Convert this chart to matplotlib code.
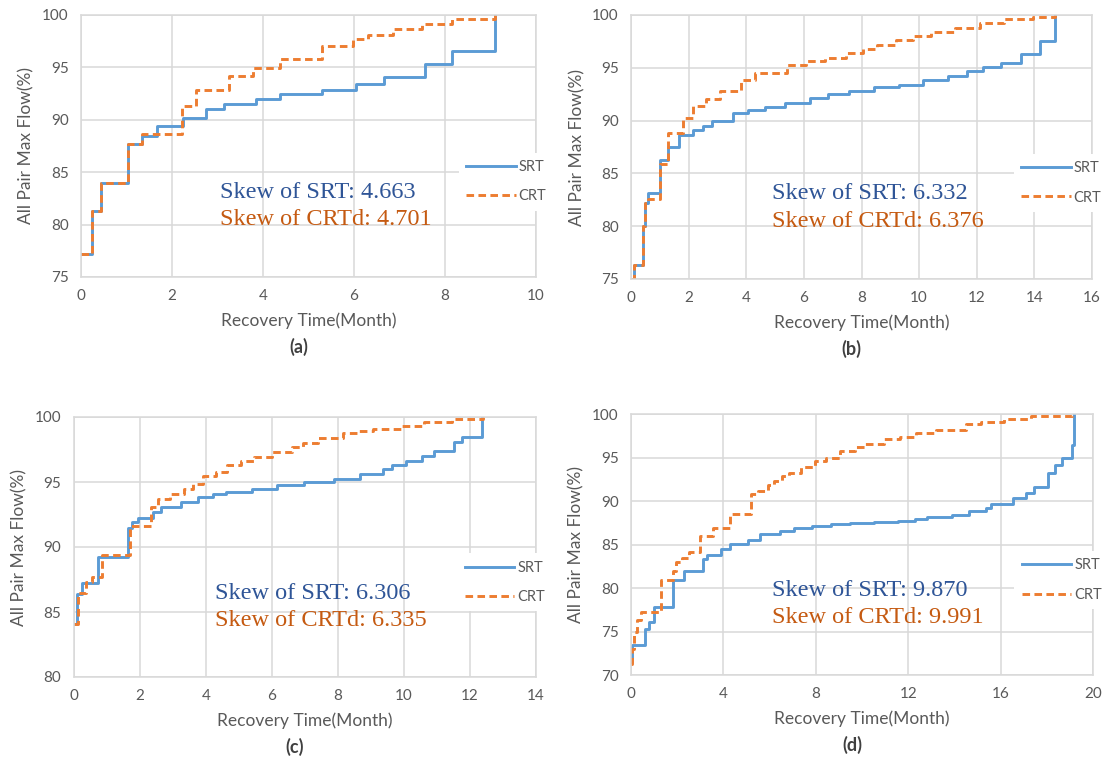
import matplotlib.pyplot as plt

# ---- data (step start time, level) ----
# (a)
a_srt_t = [0, 0.25, 0.45, 1.03, 1.35, 1.67, 2.25, 2.75, 3.15, 3.85, 4.37, 5.3, 6.05, 6.65, 7.55, 8.15, 9.1]
a_srt_v = [77.2, 81.3, 84.0, 87.7, 88.5, 89.4, 90.2, 91.0, 91.5, 92.0, 92.45, 92.85, 93.4, 94.1, 95.3, 96.6, 100]
a_crt_t = [0, 0.25, 0.45, 1.03, 1.35, 2.22, 2.53, 3.25, 3.78, 4.37, 5.3, 5.97, 6.3, 6.85, 7.5, 8.15, 9.1]
a_crt_v = [77.2, 81.3, 84.0, 87.7, 88.6, 91.3, 92.8, 94.2, 94.9, 95.8, 97.0, 97.7, 98.1, 98.7, 99.1, 99.6, 100]

# (b)
b_srt_t = [0, 0.1, 0.4, 0.5, 0.6, 1.0, 1.28, 1.65, 2.15, 2.5, 2.8, 3.55, 4.05, 4.65, 5.33, 6.2, 6.85,
           7.55, 8.45, 9.3, 10.15, 11.0, 11.65, 12.2, 12.85, 13.55, 14.2, 14.7]
b_srt_v = [75, 76.3, 80, 82.2, 83.1, 86.3, 87.5, 88.6, 89.1, 89.5, 90.0, 90.7, 91.0, 91.3, 91.7, 92.15, 92.55,
           92.8, 93.15, 93.35, 93.8, 94.25, 94.7, 95.1, 95.5, 96.35, 97.5, 100]
b_crt_t = [0, 0.1, 0.4, 0.5, 0.58, 1.0, 1.3, 1.8, 2.15, 2.6, 3.1, 3.82, 4.3, 5.4, 6.08, 6.75, 7.45,
           8.05, 8.55, 9.2, 9.8, 10.4, 11.25, 12.1, 12.95, 13.95, 14.72]
b_crt_v = [75, 76.3, 80, 82.2, 82.6, 85.85, 88.8, 90.2, 91.4, 92.0, 92.8, 93.8, 94.5, 95.3, 95.6, 95.95, 96.4,
           96.75, 97.2, 97.6, 98.0, 98.35, 98.8, 99.2, 99.6, 99.85, 100]

# (c)
c_srt_t = [0, 0.1, 0.25, 0.72, 1.63, 1.75, 1.95, 2.38, 2.65, 3.25, 3.75, 4.22, 4.62, 5.38, 6.15, 6.97,
           7.87, 8.68, 9.37, 9.65, 10.07, 10.55, 10.9, 11.5, 11.75, 12.35]
c_srt_v = [84.1, 86.4, 87.2, 89.2, 91.5, 91.9, 92.25, 92.7, 93.05, 93.5, 93.85, 94.1, 94.25, 94.5, 94.8, 95.0,
           95.25, 95.6, 96.0, 96.3, 96.6, 97.0, 97.4, 98.1, 98.5, 100]
c_crt_t = [0, 0.12, 0.35, 0.55, 0.85, 1.7, 2.33, 2.55, 2.92, 3.32, 3.6, 3.9, 4.3, 4.65, 5.05, 5.45, 6.0,
           6.6, 6.95, 7.4, 8.15, 8.62, 9.07, 9.95, 10.62, 11.45, 12.38]
c_crt_v = [84.1, 86.5, 87.3, 87.7, 89.35, 91.6, 93.1, 93.7, 94.1, 94.5, 94.85, 95.5, 95.8, 96.3, 96.6, 96.9, 97.3,
           97.7, 98.0, 98.4, 98.75, 98.9, 99.1, 99.3, 99.65, 99.85, 100]

# (d)
d_srt_t = [0, 0.05, 0.6, 0.8, 1.0, 1.8, 2.3, 3.1, 3.3, 3.9, 4.3, 5.05, 5.6, 6.45, 7.05, 7.85, 8.65, 9.5,
           10.5, 11.55, 12.3, 12.8, 13.9, 14.65, 15.35, 15.6, 16.55, 17.1, 17.45, 18.05, 18.35, 18.65, 19.08, 19.18]
d_srt_v = [71.5, 73.4, 75.3, 76.1, 77.8, 80.9, 81.9, 83.3, 83.8, 84.5, 85.05, 85.5, 86.15, 86.6, 86.9, 87.1, 87.3, 87.45,
           87.6, 87.75, 87.95, 88.15, 88.4, 88.8, 89.2, 89.6, 90.4, 90.9, 91.6, 93.2, 94.1, 94.95, 96.4, 100]
d_crt_t = [0, 0.05, 0.12, 0.25, 0.45, 1.3, 1.8, 1.95, 2.2, 2.5, 3.0, 3.55, 4.3, 5.2, 5.5, 5.95, 6.2, 6.55,
           6.85, 7.35, 7.95, 8.45, 9.05, 9.7, 10.15, 10.95, 11.65, 12.35, 13.2, 14.5, 15.15, 16.15, 17.3, 19.1]
d_crt_v = [71.3, 73.0, 75.0, 76.3, 77.2, 80.9, 82.0, 83.0, 83.4, 84.1, 86.0, 86.95, 88.5, 90.8, 91.1, 91.8, 92.3, 92.9,
           93.2, 93.95, 94.6, 95.0, 95.75, 96.25, 96.55, 97.1, 97.4, 97.8, 98.15, 98.85, 99.1, 99.45, 99.8, 100]

skew_srt = ["4.663", "6.332", "6.306", "9.870"]
skew_crt = ["4.701", "6.376", "6.335", "9.991"]
letters = ["(a)", "(b)", "(c)", "(d)"]
xlims = [(0, 10, 2), (0, 16, 2), (0, 14, 2), (0, 20, 4)]
ylims = [(75, 100), (75, 100), (80, 100), (70, 100)]

# panel boxes in pixels: left, top, right, bottom
boxes = [(81, 15, 536, 277), (631, 15, 1092, 279), (74, 417, 536, 677), (631, 414, 1093, 675)]
ylabel_x = [26, 577, 19, 576]

W, H = 1109, 759
fig = plt.figure(figsize=(W / 100, H / 100), dpi=100)

series = [(a_srt_t, a_srt_v, a_crt_t, a_crt_v), (b_srt_t, b_srt_v, b_crt_t, b_crt_v),
          (c_srt_t, c_srt_v, c_crt_t, c_crt_v), (d_srt_t, d_srt_v, d_crt_t, d_crt_v)]

grey = '#595959'
gridc = '#D9D9D9'
sans = 'Lato'

for i in range(4):
    l, t, r, b = boxes[i]
    ax = fig.add_axes([l / W, 1 - b / H, (r - l) / W, (b - t) / H])
    st, sv, ct, cv = series[i]
    ax.plot(st, sv, drawstyle='steps-post', color='#5B9BD5', lw=2.1, label='SRT')
    ax.plot(ct, cv, drawstyle='steps-post', color='#ED7D31', lw=2.1, dashes=(2.6, 1.5), label='CRT')

    x0, x1, xs = xlims[i]
    ax.set_xlim(x0, x1)
    ax.set_xticks(range(x0, x1 + 1, xs))
    y0, y1 = ylims[i]
    ax.set_ylim(y0, y1)
    ax.set_yticks(range(y0, y1 + 1, 5))
    ax.grid(True, color=gridc, lw=1.1)
    ax.set_axisbelow(True)
    for sp in ax.spines.values():
        sp.set_color(gridc)
        sp.set_linewidth(1.1)
    ax.tick_params(length=0, labelsize=11, labelcolor=grey, pad=9)
    for lab in ax.get_xticklabels() + ax.get_yticklabels():
        lab.set_fontfamily(sans)

    ax.text(0.305, 0.322, "Skew of SRT: " + skew_srt[i], transform=ax.transAxes,
            family='Liberation Serif', fontsize=17.5, color='#2F5597', va='center')
    ax.text(0.305, 0.219, "Skew of CRTd: " + skew_crt[i], transform=ax.transAxes,
            family='Liberation Serif', fontsize=17.5, color='#C55A11', va='center')

    leg = ax.legend(loc='center left', bbox_to_anchor=(0.83, 0.364), frameon=True,
                    prop={'family': sans, 'size': 10.5}, handlelength=3.4, handletextpad=0.2,
                    labelspacing=1.05, borderpad=0.5, borderaxespad=0)
    leg.get_frame().set_facecolor('white')
    leg.get_frame().set_edgecolor('none')
    leg.get_frame().set_alpha(1)
    for txt in leg.get_texts():
        txt.set_color(grey)

    cx = (l + r) / 2
    fig.text(cx / W, 1 - (b + 44) / H, "Recovery Time(Month)", family=sans, fontsize=12.5,
             color=grey, ha='center', va='center')
    fig.text(ylabel_x[i] / W, 1 - ((t + b) / 2) / H, "All Pair Max Flow(%)", family=sans,
             fontsize=12.5, color=grey, ha='center', va='center', rotation=90)
    fig.text((cx - 10) / W, 1 - (b + 70) / H, letters[i], family=sans, fontsize=13,
             fontweight='bold', color='#404040', ha='center', va='center')

fig.savefig('out.png', dpi=100, facecolor='white')
